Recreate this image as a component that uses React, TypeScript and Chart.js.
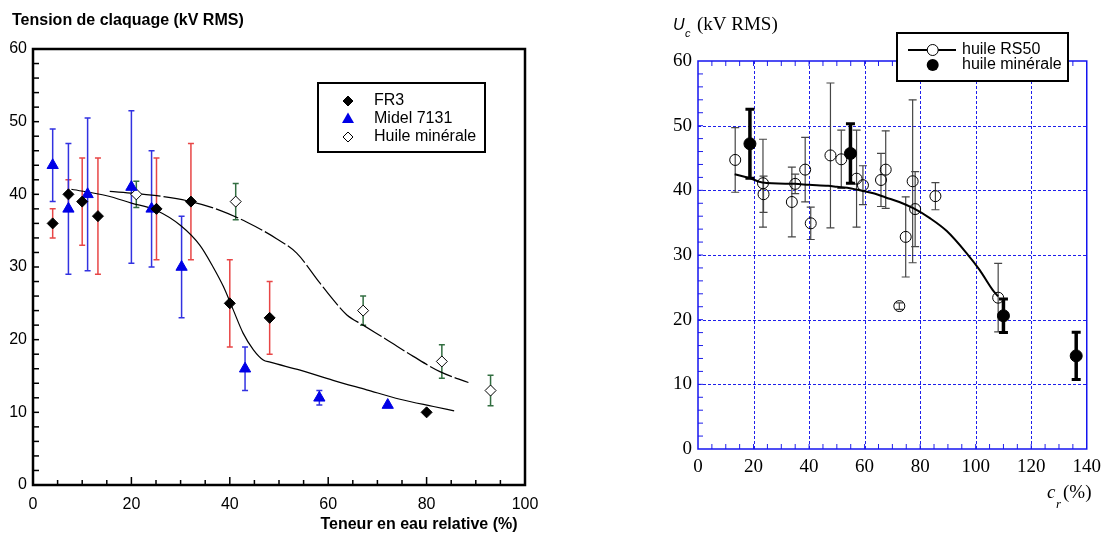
import React, { useEffect, useRef } from 'react';
import { Chart, registerables } from 'chart.js';
Chart.register(...registerables);

// ---------- Left chart data ----------
const fr3X = [4, 7.2, 10, 13.2, 25.1, 32.1, 40, 48.1, 80];
const fr3Y = [36, 40, 39, 37, 38, 39, 25, 23, 10];
const fr3Err = [2, 2, 6, 8, 7, 8, 6, 5, 0];

const midelX = [4, 7.2, 11.1, 20, 24.1, 30.2, 43.1, 58.2, 72.1];
const midelY = [44, 38, 40, 41, 38, 30, 16, 12, 11];
const midelErr = [5, 9, 10.5, 10.5, 8, 7, 3, 1, 0];

const mineralX = [21, 41.2, 67.1, 83.1, 93];
const mineralY = [40, 39, 24, 17, 13];
const mineralErr = [1.8, 2.5, 2, 2.3, 2.1];

const fr3FitX = [7.8, 15, 20, 25, 30, 33.9, 36.6, 38.7, 40.7, 42.7, 44.8, 46.8, 48.2, 54.3, 61, 67.8, 74.6, 81.4, 85.6];
const fr3FitY = [40.7, 39.8, 38.8, 37.8, 35.7, 33.0, 30.0, 27.3, 24.1, 20.9, 18.6, 17.2, 16.9, 15.8, 14.4, 13.1, 11.8, 10.8, 10.2];

const mineralFitX = [15.6, 21, 26.4, 32.1, 38, 43.4, 49.5, 53.6, 58.3, 61, 63.8, 67.1, 71.9, 77.3, 82.7, 88.5];
const mineralFitY = [40.4, 40.1, 39.7, 39.0, 37.8, 36.2, 33.9, 31.9, 27.8, 25.5, 23.4, 22.0, 20.0, 17.7, 15.6, 14.1];

const leftXTicks = [0, 20, 40, 60, 80, 100];
const leftYTicks = [0, 10, 20, 30, 40, 50, 60];

// ---------- Right chart data ----------
const rsX = [13.4, 23.4, 23.6, 33.8, 35, 38.6, 40.6, 47.7, 51.6, 57.1, 59.4, 65.9, 67.6, 72.5, 74.8, 77.3, 78.2, 85.5, 108.1];
const rsY = [44.7, 41.1, 39.4, 38.2, 41.0, 43.2, 34.9, 45.4, 44.8, 41.8, 40.8, 41.6, 43.2, 22.1, 32.8, 41.4, 37.1, 39.1, 23.4];
const rsErr = [5, 6.8, 2.8, 5.4, 1.5, 5, 2.5, 11.2, 4.5, 7.5, 3, 4.1, 6, 0.5, 6.2, 12.6, 5.8, 2.1, 5.3];

const minRX = [18.7, 54.9, 110, 136.2];
const minRY = [47.2, 45.7, 20.6, 14.4];
const minRErr = [5.35, 4.6, 2.6, 3.65];

const rsFitX = [13.2, 18.6, 23.2, 34.8, 40, 46.9, 50, 55.2, 59.3, 63.5, 67.6, 72.5, 77.7, 83.5, 89.6, 96.7, 101.4, 106.1, 108.1];
const rsFitY = [42.5, 41.9, 41.2, 41.0, 40.85, 40.7, 40.55, 40.3, 39.9, 39.5, 38.9, 38.2, 37.2, 35.7, 33.7, 30.3, 27.7, 24.6, 23.6];

const rightXTicks = [0, 20, 40, 60, 80, 100, 120, 140];
const rightYTicks = [0, 10, 20, 30, 40, 50, 60];

const SANS = '"Liberation Sans", Arial, sans-serif';
const SERIF = '"Liberation Serif", "Times New Roman", serif';

const pts = (xs: number[], ys: number[]) => xs.map((x, i) => ({ x, y: ys[i] }));

function drawErr(ctx: CanvasRenderingContext2D, xs: any, ys: any, X: number[], Y: number[], E: number[], color: string, lw: number, capHalf: number, capLw: number) {
  ctx.save();
  ctx.strokeStyle = color;
  for (let i = 0; i < X.length; i++) {
    if (!E[i]) continue;
    const px = xs.getPixelForValue(X[i]);
    const t = ys.getPixelForValue(Y[i] + E[i]);
    const b = ys.getPixelForValue(Y[i] - E[i]);
    ctx.lineWidth = lw;
    ctx.beginPath(); ctx.moveTo(px, t); ctx.lineTo(px, b); ctx.stroke();
    ctx.lineWidth = capLw;
    ctx.beginPath();
    ctx.moveTo(px - capHalf, t); ctx.lineTo(px + capHalf, t);
    ctx.moveTo(px - capHalf, b); ctx.lineTo(px + capHalf, b);
    ctx.stroke();
  }
  ctx.restore();
}

function line(ctx: CanvasRenderingContext2D, x1: number, y1: number, x2: number, y2: number) {
  ctx.beginPath(); ctx.moveTo(x1, y1); ctx.lineTo(x2, y2); ctx.stroke();
}

function diamond(ctx: CanvasRenderingContext2D, x: number, y: number, r: number, fill: string) {
  ctx.beginPath();
  ctx.moveTo(x, y - r); ctx.lineTo(x + r, y); ctx.lineTo(x, y + r); ctx.lineTo(x - r, y); ctx.closePath();
  ctx.fillStyle = fill; ctx.fill();
  ctx.strokeStyle = '#000'; ctx.lineWidth = 1; ctx.stroke();
}

const leftPlugin = {
  id: 'leftDecor',
  beforeDatasetsDraw(chart: any) {
    const { ctx, scales } = chart;
    drawErr(ctx, scales.x, scales.y, fr3X, fr3Y, fr3Err, 'rgb(232,70,70)', 1.5, 3, 1.5);
    drawErr(ctx, scales.x, scales.y, midelX, midelY, midelErr, 'rgb(50,50,225)', 1.5, 3, 1.5);
    drawErr(ctx, scales.x, scales.y, mineralX, mineralY, mineralErr, 'rgb(50,110,65)', 1.5, 3, 1.5);
  },
  afterDraw(chart: any) {
    const { ctx, chartArea: a, scales } = chart;
    const xs = scales.x, ys = scales.y;
    ctx.save();
    ctx.strokeStyle = '#000';
    ctx.lineWidth = 1.5;
    for (let v = 2; v < 60; v += 2) {
      const py = ys.getPixelForValue(v);
      line(ctx, a.left, py, a.left + 6, py);
    }
    for (let v = 5; v < 100; v += 5) {
      const px = xs.getPixelForValue(v);
      const len = v % 20 === 0 ? 8 : 5;
      line(ctx, px, a.bottom, px, a.bottom - len);
    }
    ctx.lineWidth = 2.5;
    ctx.strokeRect(a.left, a.top, a.right - a.left, a.bottom - a.top);

    // titles
    ctx.fillStyle = '#000';
    ctx.font = `bold 16px ${SANS}`;
    ctx.textAlign = 'left';
    ctx.textBaseline = 'alphabetic';
    ctx.fillText('Tension de claquage (kV RMS)', 12, 25);
    ctx.textAlign = 'center';
    ctx.fillText('Teneur en eau relative (%)', 419, 529);

    // legend
    ctx.lineWidth = 2;
    ctx.strokeStyle = '#000';
    ctx.fillStyle = '#fff';
    ctx.fillRect(318, 83, 167, 69);
    ctx.strokeRect(318, 83, 167, 69);
    diamond(ctx, 348, 101, 5, '#000');
    ctx.beginPath();
    ctx.moveTo(348, 112.5); ctx.lineTo(354, 123); ctx.lineTo(342, 123); ctx.closePath();
    ctx.fillStyle = 'rgb(0,0,230)'; ctx.fill();
    diamond(ctx, 348, 137, 5, '#fff');
    ctx.fillStyle = '#000';
    ctx.font = `16px ${SANS}`;
    ctx.textAlign = 'left';
    ctx.textBaseline = 'middle';
    ctx.fillText('FR3', 374, 101);
    ctx.fillText('Midel 7131', 374, 119);
    ctx.fillText('Huile minérale', 374, 137);
    ctx.restore();
  },
};

const rightPlugin = {
  id: 'rightDecor',
  beforeDatasetsDraw(chart: any) {
    const { ctx, chartArea: a, scales } = chart;
    const xs = scales.x, ys = scales.y;
    ctx.save();
    ctx.strokeStyle = 'rgb(30,30,235)';
    ctx.lineWidth = 1;
    ctx.setLineDash([3, 2]);
    for (const v of rightXTicks) {
      if (v === 0 || v === 140) continue;
      const px = Math.round(xs.getPixelForValue(v)) + 0.5;
      line(ctx, px, a.top, px, a.bottom);
    }
    for (const v of rightYTicks) {
      if (v === 0 || v === 60) continue;
      const py = Math.round(ys.getPixelForValue(v)) + 0.5;
      line(ctx, a.left, py, a.right, py);
    }
    ctx.setLineDash([]);
    // minor ticks
    for (let v = 2; v < 60; v += 2) {
      const py = ys.getPixelForValue(v);
      line(ctx, a.left, py, a.left + 5, py);
    }
    for (let v = 5; v < 140; v += 5) {
      const px = xs.getPixelForValue(v);
      line(ctx, px, a.bottom, px, a.bottom - 5);
      line(ctx, px, a.top, px, a.top + 5);
    }
    ctx.lineWidth = 1.5;
    ctx.strokeStyle = 'rgb(20,20,240)';
    ctx.strokeRect(a.left, a.top, a.right - a.left, a.bottom - a.top);
    ctx.restore();
    drawErr(ctx, xs, ys, rsX, rsY, rsErr, 'rgb(70,70,70)', 1.2, 4, 1.2);
    drawErr(ctx, xs, ys, minRX, minRY, minRErr, '#000', 3.5, 4.5, 3);
  },
  afterDraw(chart: any) {
    const { ctx } = chart;
    ctx.save();
    ctx.fillStyle = '#000';
    ctx.textAlign = 'left';
    ctx.textBaseline = 'alphabetic';
    ctx.font = `italic 16px ${SANS}`;
    ctx.fillText('U', 119, 30);
    ctx.font = `italic 11px ${SANS}`;
    ctx.fillText('c', 131, 37);
    ctx.font = `19px ${SERIF}`;
    ctx.fillText('(kV RMS)', 143, 30);

    ctx.font = `italic 19px ${SERIF}`;
    ctx.fillText('c', 493, 498);
    ctx.font = `italic 13px ${SERIF}`;
    ctx.fillText('r', 502, 508);
    ctx.font = `19px ${SERIF}`;
    ctx.fillText('(%)', 509, 498);

    // legend
    ctx.fillStyle = '#fff';
    ctx.fillRect(343, 33, 171, 48);
    ctx.strokeStyle = '#000';
    ctx.lineWidth = 2;
    ctx.strokeRect(343, 33, 171, 48);
    line(ctx, 354, 50, 402, 50);
    ctx.beginPath(); ctx.arc(378.7, 50, 5.5, 0, Math.PI * 2);
    ctx.fillStyle = '#fff'; ctx.fill();
    ctx.lineWidth = 1; ctx.stroke();
    ctx.beginPath(); ctx.arc(378.7, 65, 6, 0, Math.PI * 2);
    ctx.fillStyle = '#000'; ctx.fill();
    ctx.font = `16px ${SANS}`;
    ctx.textBaseline = 'middle';
    ctx.fillText('huile RS50', 408, 50);
    ctx.fillText('huile minérale', 408, 65);
    ctx.restore();
  },
};

export default function App() {
  const leftRef = useRef<HTMLCanvasElement>(null);
  const rightRef = useRef<HTMLCanvasElement>(null);

  useEffect(() => {
    const left = new Chart(leftRef.current as HTMLCanvasElement, {
      type: 'scatter',
      data: {
        datasets: [
          { label: 'FR3', data: pts(fr3X, fr3Y), pointStyle: 'rectRot', pointRadius: 5.5, backgroundColor: '#000', borderColor: '#000', borderWidth: 1, order: 1 } as any,
          { label: 'Midel 7131', data: pts(midelX, midelY), pointStyle: 'triangle', pointRadius: 6.5, backgroundColor: 'rgb(0,0,230)', borderColor: 'rgb(0,0,230)', borderWidth: 1, order: 1 } as any,
          { label: 'Huile minérale', data: pts(mineralX, mineralY), pointStyle: 'rectRot', pointRadius: 5.5, backgroundColor: '#fff', borderColor: '#000', borderWidth: 1, order: 1 } as any,
          { type: 'line', label: 'fit FR3', data: pts(fr3FitX, fr3FitY), borderColor: '#000', borderWidth: 1.2, pointRadius: 0, cubicInterpolationMode: 'monotone', fill: false, order: 2 } as any,
          { type: 'line', label: 'fit minérale', data: pts(mineralFitX, mineralFitY), borderColor: '#000', borderWidth: 1.2, borderDash: [24, 3], pointRadius: 0, cubicInterpolationMode: 'monotone', fill: false, order: 2 } as any,
        ],
      },
      options: {
        responsive: false,
        animation: false,
        devicePixelRatio: 1,
        events: [],
        layout: { padding: { top: 49, right: 29, left: 0, bottom: 0 } },
        plugins: { legend: { display: false }, tooltip: { enabled: false } },
        scales: {
          x: {
            type: 'linear', min: 0, max: 100,
            afterBuildTicks: (s: any) => { s.ticks = leftXTicks.map((v) => ({ value: v })); },
            ticks: { font: { family: SANS, size: 16 }, color: '#000', padding: 10, maxRotation: 0, autoSkip: false },
            grid: { display: false, drawTicks: false },
            border: { display: false },
            afterFit: (s: any) => { s.height = 51; },
          },
          y: {
            type: 'linear', min: 0, max: 60,
            afterBuildTicks: (s: any) => { s.ticks = leftYTicks.map((v) => ({ value: v })); },
            ticks: { font: { family: SANS, size: 16 }, color: '#000', padding: 6 },
            grid: { display: false, drawTicks: false },
            border: { display: false },
            afterFit: (s: any) => { s.width = 33; },
          },
        },
      } as any,
      plugins: [leftPlugin],
    });

    const right = new Chart(rightRef.current as HTMLCanvasElement, {
      type: 'scatter',
      data: {
        datasets: [
          { label: 'huile minérale', data: pts(minRX, minRY), pointStyle: 'circle', pointRadius: 6, backgroundColor: '#000', borderColor: '#000', borderWidth: 1, order: 1 } as any,
          { label: 'huile RS50', data: pts(rsX, rsY), pointStyle: 'circle', pointRadius: 5.5, backgroundColor: 'rgba(0,0,0,0)', borderColor: '#000', borderWidth: 1, order: 1 } as any,
          { type: 'line', label: 'fit RS50', data: pts(rsFitX, rsFitY), borderColor: '#000', borderWidth: 2, pointRadius: 0, cubicInterpolationMode: 'monotone', fill: false, order: 2 } as any,
        ],
      },
      options: {
        responsive: false,
        animation: false,
        devicePixelRatio: 1,
        events: [],
        layout: { padding: { top: 61, right: 16, left: 0, bottom: 0 } },
        plugins: { legend: { display: false }, tooltip: { enabled: false } },
        scales: {
          x: {
            type: 'linear', min: 0, max: 140,
            afterBuildTicks: (s: any) => { s.ticks = rightXTicks.map((v) => ({ value: v })); },
            ticks: { font: { family: SERIF, size: 19 }, color: '#000', padding: 7, maxRotation: 0, autoSkip: false },
            grid: { display: false, drawTicks: false },
            border: { display: false },
            afterFit: (s: any) => { s.height = 87; },
          },
          y: {
            type: 'linear', min: 0, max: 60,
            afterBuildTicks: (s: any) => { s.ticks = rightYTicks.map((v) => ({ value: v })); },
            ticks: { font: { family: SERIF, size: 19 }, color: '#000', padding: 6 },
            grid: { display: false, drawTicks: false },
            border: { display: false },
            afterFit: (s: any) => { s.width = 144; },
          },
        },
      } as any,
      plugins: [rightPlugin],
    });

    return () => { left.destroy(); right.destroy(); };
  }, []);

  return (
    <div style={{ position: 'absolute', left: 0, top: 0, width: 1108, height: 536, background: '#fff' }}>
      <canvas ref={leftRef} width={554} height={536} style={{ position: 'absolute', left: 0, top: 0, width: 554, height: 536 }} />
      <canvas ref={rightRef} width={554} height={536} style={{ position: 'absolute', left: 554, top: 0, width: 554, height: 536 }} />
    </div>
  );
}
